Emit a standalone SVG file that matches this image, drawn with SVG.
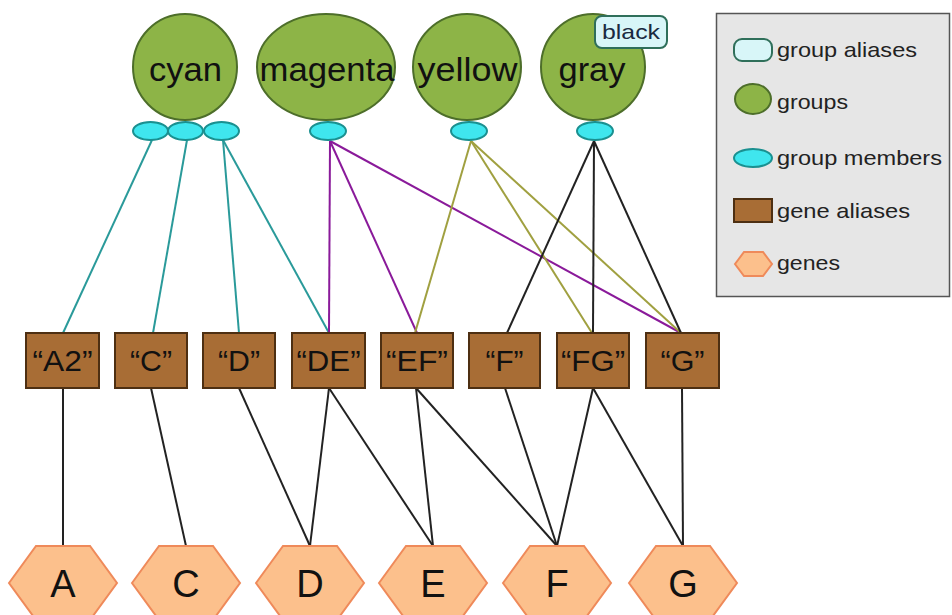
<svg xmlns="http://www.w3.org/2000/svg" width="952" height="615" viewBox="0 0 952 615">
<defs>
<style>
text{font-family:"Liberation Sans",Arial,sans-serif;fill:#111;}
.grp{fill:#8db447;stroke:#4d6e2a;stroke-width:2;}
.mem{fill:#3fe6ee;stroke:#1a9090;stroke-width:2;}
.ali{fill:#a86d35;stroke:#4d2f12;stroke-width:2;}
.gene{fill:#fcc08c;stroke:#ef8a5a;stroke-width:2;}
.gal{fill:#d8f6f8;stroke:#2f6f5a;stroke-width:2;}
.gl{font-size:34px;text-anchor:middle;}
.al{font-size:30px;text-anchor:middle;}
.gt{font-size:38px;text-anchor:middle;}
.lt{font-size:21px;fill:#222;}
.e{fill:none;stroke-width:2;}
.teal{stroke:#2a9a9a;}
.purp{stroke:#8a1a9a;}
.oliv{stroke:#a0a040;}
.blk{stroke:#222;}
</style>
</defs>
<rect width="952" height="615" fill="#fff"/>
<g id="connectors">
<line class="e teal" x1="152" y1="140" x2="63" y2="333"/>
<line class="e teal" x1="187" y1="140" x2="153" y2="333"/>
<line class="e teal" x1="223" y1="140" x2="239" y2="333"/>
<line class="e teal" x1="223" y1="140" x2="329" y2="333"/>
<line class="e purp" x1="330" y1="141" x2="329" y2="333"/>
<line class="e purp" x1="330" y1="141" x2="417" y2="333"/>
<line class="e purp" x1="330" y1="141" x2="681" y2="333"/>
<line class="e oliv" x1="471" y1="141" x2="415" y2="333"/>
<line class="e oliv" x1="471" y1="141" x2="592" y2="333"/>
<line class="e oliv" x1="471" y1="141" x2="681" y2="333"/>
<line class="e blk" x1="594" y1="141" x2="507" y2="333"/>
<line class="e blk" x1="594" y1="141" x2="593" y2="333"/>
<line class="e blk" x1="594" y1="141" x2="681" y2="333"/>
<line class="e blk" x1="63" y1="388" x2="63" y2="546"/>
<line class="e blk" x1="151" y1="388" x2="186" y2="546"/>
<line class="e blk" x1="239" y1="388" x2="310" y2="546"/>
<line class="e blk" x1="329" y1="388" x2="310" y2="546"/>
<line class="e blk" x1="329" y1="388" x2="433" y2="546"/>
<line class="e blk" x1="416" y1="388" x2="433" y2="546"/>
<line class="e blk" x1="416" y1="388" x2="557" y2="546"/>
<line class="e blk" x1="505" y1="388" x2="557" y2="546"/>
<line class="e blk" x1="593" y1="388" x2="557" y2="546"/>
<line class="e blk" x1="593" y1="388" x2="683" y2="546"/>
<line class="e blk" x1="682" y1="388" x2="683" y2="546"/>
</g>
<g id="group-cyan">
<ellipse class="grp" cx="185" cy="67" rx="52" ry="53"/>
<text class="gl" x="185.5" y="81" textLength="73" lengthAdjust="spacingAndGlyphs">cyan</text>
</g>
<g id="group-magenta">
<ellipse class="grp" cx="326" cy="67" rx="69" ry="53"/>
<text class="gl" x="327" y="81" textLength="135" lengthAdjust="spacingAndGlyphs">magenta</text>
</g>
<g id="group-yellow">
<ellipse class="grp" cx="467" cy="67" rx="54" ry="53"/>
<text class="gl" x="467.5" y="81" textLength="100" lengthAdjust="spacingAndGlyphs">yellow</text>
</g>
<g id="group-gray">
<ellipse class="grp" cx="593" cy="67" rx="52" ry="53"/>
<text class="gl" x="592" y="81" textLength="67" lengthAdjust="spacingAndGlyphs">gray</text>
</g>
<g id="alias-black">
<rect class="gal" x="595" y="16" width="72" height="32" rx="7"/>
<text x="631" y="39" font-size="21" text-anchor="middle" textLength="58" lengthAdjust="spacingAndGlyphs" style="fill:#1a2a40">black</text>
</g>
<g id="member-cyan-1"><ellipse class="mem" cx="150.5" cy="131" rx="17.5" ry="9"/></g>
<g id="member-cyan-2"><ellipse class="mem" cx="185.5" cy="131" rx="17.5" ry="9"/></g>
<g id="member-cyan-3"><ellipse class="mem" cx="221.5" cy="131" rx="17.5" ry="9"/></g>
<g id="member-magenta"><ellipse class="mem" cx="328" cy="131" rx="18" ry="9"/></g>
<g id="member-yellow"><ellipse class="mem" cx="469" cy="131" rx="18" ry="9"/></g>
<g id="member-gray"><ellipse class="mem" cx="595" cy="131" rx="18" ry="9"/></g>
<g id="alias-A2"><rect class="ali" x="26" y="333" width="73" height="55"/><text class="al" x="62.5" y="371" textLength="60" lengthAdjust="spacingAndGlyphs">“A2”</text></g>
<g id="alias-C"><rect class="ali" x="115" y="333" width="72" height="55"/><text class="al" x="151" y="371" textLength="42" lengthAdjust="spacingAndGlyphs">“C”</text></g>
<g id="alias-D"><rect class="ali" x="203" y="333" width="72" height="55"/><text class="al" x="239" y="371" textLength="42" lengthAdjust="spacingAndGlyphs">“D”</text></g>
<g id="alias-DE"><rect class="ali" x="292" y="333" width="73" height="55"/><text class="al" x="328.5" y="371" textLength="64" lengthAdjust="spacingAndGlyphs">“DE”</text></g>
<g id="alias-EF"><rect class="ali" x="381" y="333" width="72" height="55"/><text class="al" x="417" y="371" textLength="62" lengthAdjust="spacingAndGlyphs">“EF”</text></g>
<g id="alias-F"><rect class="ali" x="469" y="333" width="71" height="55"/><text class="al" x="504.5" y="371" textLength="38" lengthAdjust="spacingAndGlyphs">“F”</text></g>
<g id="alias-FG"><rect class="ali" x="557" y="333" width="72" height="55"/><text class="al" x="593" y="371" textLength="64" lengthAdjust="spacingAndGlyphs">“FG”</text></g>
<g id="alias-G"><rect class="ali" x="646" y="333" width="73" height="55"/><text class="al" x="682.5" y="371" textLength="44" lengthAdjust="spacingAndGlyphs">“G”</text></g>
<g id="gene-A"><polygon class="gene" points="9,583 36,546 90,546 117,583 90,620 36,620"/><text class="gt" x="63" y="597">A</text></g>
<g id="gene-C"><polygon class="gene" points="132,583 159,546 213,546 240,583 213,620 159,620"/><text class="gt" x="186" y="597">C</text></g>
<g id="gene-D"><polygon class="gene" points="256,583 283,546 337,546 364,583 337,620 283,620"/><text class="gt" x="310" y="597">D</text></g>
<g id="gene-E"><polygon class="gene" points="379,583 406,546 460,546 487,583 460,620 406,620"/><text class="gt" x="433" y="597">E</text></g>
<g id="gene-F"><polygon class="gene" points="503,583 530,546 584,546 611,583 584,620 530,620"/><text class="gt" x="557" y="597">F</text></g>
<g id="gene-G"><polygon class="gene" points="629,583 656,546 710,546 737,583 710,620 656,620"/><text class="gt" x="683" y="597">G</text></g>
<g id="legend">
<rect x="716.5" y="13.5" width="233" height="283" fill="#e6e6e6" stroke="#555" stroke-width="1.5"/>
<rect class="gal" x="734" y="39" width="38" height="22" rx="8"/>
<text class="lt" x="777" y="57" textLength="140" lengthAdjust="spacingAndGlyphs">group aliases</text>
<ellipse class="grp" cx="753" cy="99" rx="18" ry="15"/>
<text class="lt" x="777" y="109" textLength="71" lengthAdjust="spacingAndGlyphs">groups</text>
<ellipse class="mem" cx="753" cy="158" rx="19" ry="9"/>
<text class="lt" x="777" y="165" textLength="165" lengthAdjust="spacingAndGlyphs">group members</text>
<rect class="ali" x="734" y="199" width="38" height="23"/>
<text class="lt" x="777" y="218" textLength="133" lengthAdjust="spacingAndGlyphs">gene aliases</text>
<polygon class="gene" points="735,264 744,252 763,252 772,264 763,276 744,276"/>
<text class="lt" x="777" y="270" textLength="63" lengthAdjust="spacingAndGlyphs">genes</text>
</g>
</svg>
